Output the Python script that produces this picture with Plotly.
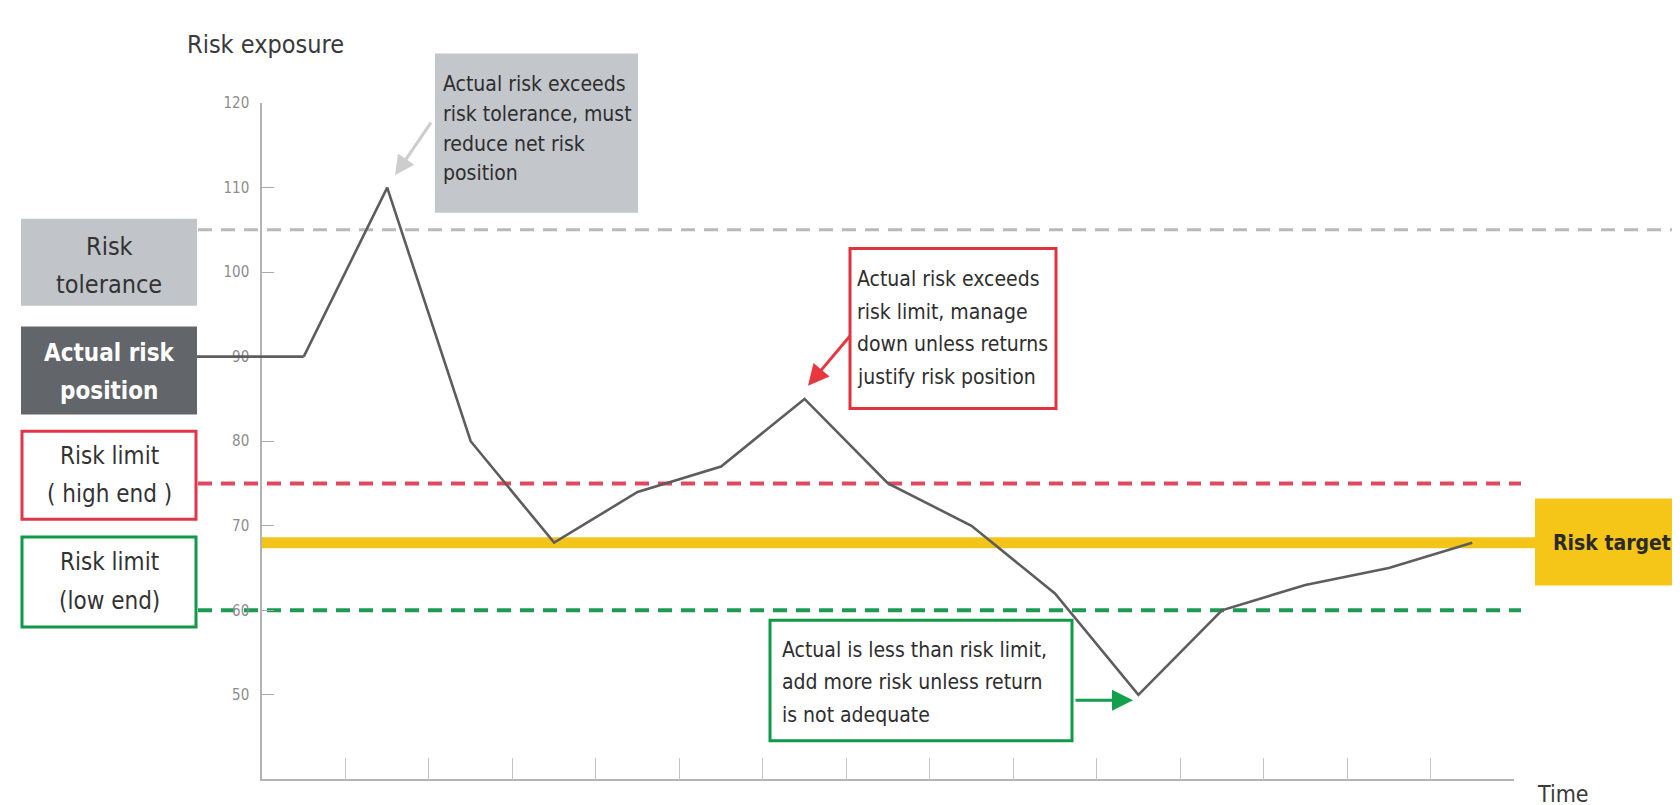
import plotly.graph_objects as go

# ---- data ----
time_points = [0.5, 1.5, 2.5, 3.5, 4.5, 5.5, 6.5, 7.5, 8.5, 9.5, 10.5, 11.5, 12.5, 13.5, 14.5]
actual_risk = [90, 110, 80, 68, 74, 77, 85, 75, 70, 62, 50, 60, 63, 65, 68]
y_tick_values = [50, 60, 70, 80, 90, 100, 110, 120]
x_tick_values = list(range(1, 16))
risk_tolerance = 105
risk_limit_high = 75
risk_target = 68
risk_limit_low = 60

W, H = 1680, 805
FONT = "Liberation Sans Narrow, DejaVu Sans Condensed, Roboto, sans-serif"

def fx(px):
    return px / W

def fy(py):
    return 1 - py / H

X_DOM = [fx(254), fx(1506)]
Y_DOM = [fy(771), fy(87)]
X_RANGE = [0, 15]
Y_RANGE = [40, 120]

def data_x_to_paper(v):
    return X_DOM[0] + (v - X_RANGE[0]) / (X_RANGE[1] - X_RANGE[0]) * (X_DOM[1] - X_DOM[0])

fig = go.Figure()
fig.add_trace(go.Scatter(
    x=time_points, y=actual_risk, mode="lines",
    line=dict(color="#5d5d5d", width=2.6), hoverinfo="skip", showlegend=False,
))

shapes = []
annotations = []

# reference lines
def hline(yv, x0px, x1px, color, width, dash=None):
    d = dict(type="line", xref="paper", yref="y", x0=fx(x0px), x1=fx(x1px), y0=yv, y1=yv,
             line=dict(color=color, width=width), layer="below")
    if dash:
        d["line"]["dash"] = dash
    shapes.append(d)

hline(risk_tolerance, 190, 1671, "#b9b9b9", 3, "14px,9px")
hline(risk_limit_high, 190, 1513, "#e04a5f", 4, "14px,9px")
hline(risk_limit_low, 190, 1513, "#1e9a55", 4, "14px,9px")
hline(risk_target, 254, 1530, "#f3c51a", 11)

# leading segment of actual risk line from the label box
shapes.append(dict(type="line", xref="paper", yref="y", x0=fx(189), x1=data_x_to_paper(time_points[0]),
                   y0=actual_risk[0], y1=actual_risk[0], line=dict(color="#5d5d5d", width=2.6)))

def rect(x0, y0, x1, y1, fill, border=None, bw=0):
    shapes.append(dict(type="rect", xref="paper", yref="paper",
                       x0=fx(x0), x1=fx(x1), y0=fy(y1), y1=fy(y0),
                       fillcolor=fill, line=dict(color=border if border else fill, width=bw),
                       layer="above"))

def text(t, xpx, ypx, size, color="#333333", xanchor="center", bold=False):
    annotations.append(dict(text=("<b>%s</b>" % t) if bold else t, xref="paper", yref="paper",
                            x=fx(xpx), y=fy(ypx), xanchor=xanchor, yanchor="middle",
                            showarrow=False, font=dict(family=FONT, size=size, color=color)))

# left label boxes
rect(13, 204, 189, 292, "#c1c4c8")
text("Risk", 101, 232, 25)
text("tolerance", 101, 271, 25)

rect(13, 313, 189, 402, "#62666a")
text("Actual risk", 101, 340, 24, "#ffffff", bold=True)
text("position", 101, 378, 24, "#ffffff", bold=True)

rect(14, 419, 188, 508, "#ffffff", "#e0364a", 3)
text("Risk limit", 101, 444, 24)
text("( high end )", 101, 482, 24)

rect(14, 526, 188, 617, "#ffffff", "#109a48", 3)
text("Risk limit", 101, 551, 24)
text("(low end)", 101, 591, 24)

# right label box
rect(1527, 487, 1680, 575, "#f5c518")
text("Risk target", 1604, 532, 21, "#2a2a2a", bold=True)

# callout boxes
rect(427, 37, 630, 198, "#c3c6ca")
for i, line in enumerate(["Actual risk exceeds", "risk tolerance, must", "reduce net risk", "position"]):
    text(line, 433, 68 + 30 * i, 21, "#2e2e2e", xanchor="left")

rect(842, 234, 1048, 396, "#ffffff", "#e0323c", 3)
for i, line in enumerate(["Actual risk exceeds", "risk limit, manage", "down unless returns", "justify risk position"]):
    text(line, 847, 265 + 33 * i, 21, "#2e2e2e", xanchor="left")

rect(762, 610, 1064, 732, "#ffffff", "#109a48", 3)
for i, line in enumerate(["Actual is less than risk limit,", "add more risk unless return", "is not adequate"]):
    text(line, 772, 640 + 33 * i, 21, "#2e2e2e", xanchor="left")

# arrows
def arrow(tipx, tipy, tailx, taily, color, width, size):
    annotations.append(dict(text="", xref="paper", yref="paper", x=fx(tipx), y=fy(tipy),
                            ax=tailx - tipx, ay=taily - tipy, axref="pixel", ayref="pixel",
                            showarrow=True, arrowhead=2, arrowsize=size, arrowwidth=width,
                            arrowcolor=color, standoff=0, startstandoff=0))

arrow(387, 160, 424, 106, "#cdcdcd", 3, 1.3)
arrow(800, 373, 843, 322, "#e8383f", 3, 1.4)
arrow(1125, 691, 1066, 691, "#12a04c", 3, 1.4)

# axis titles
text("Risk exposure", 177, 28, 25, "#3a3a3a", xanchor="left")
text("Time", 1527, 786, 23, "#3a3a3a", xanchor="left")

fig.update_layout(
    width=W, height=H, margin=dict(l=0, r=0, t=0, b=0),
    paper_bgcolor="white", plot_bgcolor="white",
    shapes=shapes, annotations=annotations, showlegend=False,
    xaxis=dict(domain=X_DOM, range=X_RANGE, showgrid=False, zeroline=False,
               showline=True, linecolor="#b3b3b3", linewidth=1.5,
               tickvals=x_tick_values, ticks="inside", ticklen=22, tickcolor="#c4c4c4",
               tickwidth=1.2, showticklabels=False, fixedrange=True),
    yaxis=dict(domain=Y_DOM, range=Y_RANGE, showgrid=False, zeroline=False,
               showline=True, linecolor="#b3b3b3", linewidth=1.5,
               tickvals=y_tick_values, ticks="inside", ticklen=12, tickcolor="#a8a8a8",
               tickwidth=1.2, ticklabelstandoff=8,
               tickfont=dict(family=FONT, size=15, color="#8c8c8c"), fixedrange=True),
)

fig.write_html("out.html")
